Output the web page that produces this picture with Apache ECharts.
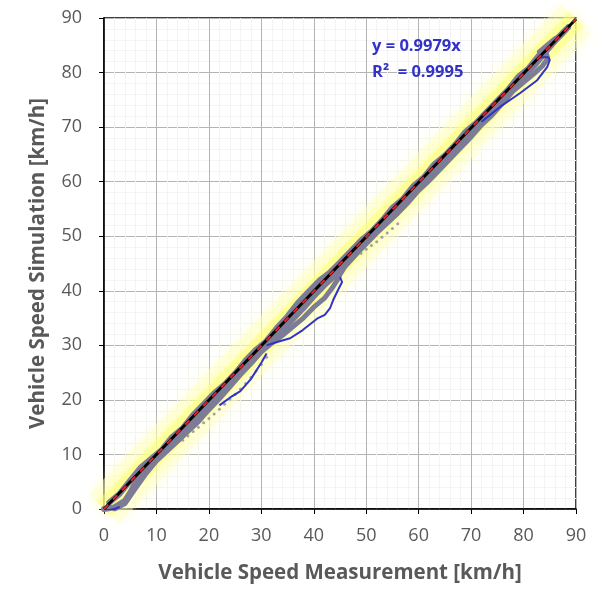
<!DOCTYPE html>
<html><head><meta charset="utf-8">
<script src="https://cdn.jsdelivr.net/npm/echarts@6/dist/echarts.min.js"></script>
<style>html,body{margin:0;padding:0;background:#fff}#c{width:606px;height:606px}</style>
</head><body><div id="c"></div>
<script>
// ---- data (x = measurement, y = simulation, km/h) ----
const axisTicks = [0,10,20,30,40,50,60,70,80,90];
const fitSlope = 0.9979;
const fitR2 = 0.9995;
const fitX = [0, 90];
const grayTrace1 = [[0,0],[2,0.3],[4,1.5],[5,3],[6,4.8],[7,6.5],[8,7.8],[10,9.5],[12,11.2],[14,13.2],[16,15.2],[18,16.8],[20,18.8],[22,20.8],[24,22.8],[26,25.2],[28,27.2],[30,29.3],[32,31],[34,32.8],[36,34.8],[38,36.8],[40,39],[42,41],[44,42.8],[46,45],[48,47.2],[50,49.2],[52,51.2],[54,53.2],[56,54.8],[58,56.8],[60,59.2],[62,60.8],[64,62.8],[66,64.8],[68,66.8],[70,68.8],[72,70.8],[74,73.2],[76,75.2],[78,77.2],[80,79.2],[82,81.2],[84,83.6],[86,85.8],[88,87.8]];
const grayTrace2 = [[1,1.2],[3,2.8],[5,5.2],[7,7.6],[9,9.2],[11,10.8],[13,13.2],[15,14.8],[17,17.2],[19,19.2],[21,21.2],[23,22.8],[25,24.8],[27,27.2],[29,29.2],[31,30.8],[33,33.2],[35,35.3],[37,37.8],[39,39.8],[41,41.8],[43,43.3],[45,45.2],[47,47.2],[49,49.2],[51,50.8],[53,52.8],[55,55.2],[57,56.8],[59,59.2],[61,60.8],[63,63.2],[65,64.8],[67,66.8],[69,69.2],[71,70.8],[73,72.8],[75,74.8],[77,76.8],[79,79.2],[81,80.8],[83,83.2],[85,85.2],[87,86.8],[88.5,88.3]];
const grayTrace3 = [[2,0],[4,1],[6,3.8],[8,6.5],[10,8.8],[12,10.6],[14,12.4],[16,14.2],[18,16],[20,18.2],[22,20.2],[24,22.4],[26,24.6],[28,26.6],[30,28.8],[32,30.4],[34,31.8],[36,33.4],[38,35],[40,37],[42,38.6],[43.5,40.5],[44.5,42],[45,43],[46,44.5],[48,46.6],[50,48.6],[52,50.6],[54,52.4],[56,54.2],[58,56.2],[60,58.4],[62,60.2],[64,62.2],[66,64.2],[68,66.2],[70,68.2],[72,70.4],[74,72.2],[76,74.4],[78,76.6],[80,78.2],[82,79.8],[83.6,81.2],[84.6,82.6],[84.2,84],[83,83.8],[84,84.6],[86,86.2]];
const grayDots1 = [[15,12.6],[16,13.4],[17,14.2],[18,15],[19,15.8],[20,16.6],[21,17.4],[22,18.3],[23,19.2],[24,20.1],[25,21],[26,22],[27,23],[28,24.1],[29,25.3],[30,26.5],[31,27.8]];
const grayDots2 = [[49,46.9],[50,47.6],[51,48.3],[52,49],[53,49.8],[54,50.6],[55,51.4],[56,52.3]];
const blueTrace1 = [[0,-0.2],[1,-0.2],[2,0],[3,0.4]];
const blueTrace2 = [[22,19],[24,20.4],[26,21.6],[28,23.8],[30,26.8],[31,28.5]];
const blueTrace3 = [[31,30],[33,30.6],[35.5,31.3],[37.9,32.8],[40.8,35],[42.1,35.6],[43.1,36.8],[43.7,38.3],[44.6,40.1],[45.4,41.6],[45,42.5]];
const blueTrace4 = [[72,71],[75.5,73.7],[79.3,76.2],[82.6,78.6],[84.5,81],[85,82.3],[84.7,82.8],[83.1,82.8],[81.8,81.7]];

const fitData = fitX.map(x => [x, fitSlope * x]);
const grayColor = '#7c7c96';
const blueColor = '#3232c8';

function grayLine(d, w) {
  return { type: 'line', data: d, symbol: 'none', smooth: false, z: 4,
    lineStyle: { color: grayColor, width: w, join: 'round', cap: 'round' } };
}
function blueLine(d) {
  return { type: 'line', data: d, symbol: 'none', z: 5,
    lineStyle: { color: blueColor, width: 2 } };
}

const chart = echarts.init(document.getElementById('c'), null, { renderer: 'canvas' });
const labelFont = { color: '#595959', fontSize: 18, fontFamily: 'Open Sans' };
const nameFont = { color: '#595959', fontSize: 20.5, fontWeight: 'bold', fontFamily: 'Open Sans' };
chart.setOption({
  animation: false,
  backgroundColor: '#fff',
  grid: { left: 104, right: 30, top: 18, bottom: 97, show: true, borderColor: '#000', borderWidth: 1.5, backgroundColor: '#fff' },
  xAxis: {
    type: 'value', min: 0, max: 90, interval: 10,
    name: 'Vehicle Speed Measurement [km/h]', nameLocation: 'middle', nameGap: 54,
    nameTextStyle: nameFont,
    axisLine: { lineStyle: { color: '#000', width: 1.5 } },
    axisTick: { show: true, length: 5, lineStyle: { color: '#000' } },
    axisLabel: Object.assign({ margin: 18 }, labelFont),
    splitLine: { lineStyle: { color: '#b4b4b4', width: 1 } },
    minorTick: { show: false, splitNumber: 5 },
    minorSplitLine: { show: true, lineStyle: { color: '#f4f4f4', width: 1 } }
  },
  yAxis: {
    type: 'value', min: 0, max: 90, interval: 10,
    name: 'Vehicle Speed Simulation [km/h]', nameLocation: 'middle', nameGap: 55,
    nameTextStyle: nameFont,
    axisLine: { lineStyle: { color: '#000', width: 1.5 } },
    axisTick: { show: true, length: 5, lineStyle: { color: '#000' } },
    axisLabel: Object.assign({ margin: 22 }, labelFont),
    splitLine: { lineStyle: { color: '#b4b4b4', width: 1 } },
    minorTick: { show: false, splitNumber: 5 },
    minorSplitLine: { show: true, lineStyle: { color: '#f4f4f4', width: 1 } }
  },
  graphic: [
    { type: 'text', left: 372, top: 38, z: 100, style: { text: 'y = 0.9979x', fill: blueColor, font: 'bold 16.5px "Open Sans"' } },
    { type: 'text', left: 372, top: 64, z: 100, style: { text: 'R\u00B2  = ' + fitR2.toFixed(4), fill: blueColor, font: 'bold 16.5px "Open Sans"' } }
  ],
  series: [
    { type: 'line', data: fitData, symbol: 'none', z: 1, silent: true,
      lineStyle: { color: 'rgba(255,255,200,0.45)', width: 42, shadowBlur: 14, shadowColor: 'rgba(255,255,170,0.7)' } },
    { type: 'line', data: fitData, symbol: 'none', z: 2, silent: true,
      lineStyle: { color: 'rgba(255,255,110,0.45)', width: 20, shadowBlur: 10, shadowColor: 'rgba(255,255,80,0.6)' } },
    grayLine(grayTrace1, 6),
    grayLine(grayTrace2, 6),
    grayLine(grayTrace3, 5),
    { type: 'scatter', data: grayDots1, symbolSize: 3, z: 4, itemStyle: { color: '#8a8aa0' } },
    { type: 'scatter', data: grayDots2, symbolSize: 3, z: 4, itemStyle: { color: '#8a8aa0' } },
    blueLine(blueTrace1),
    blueLine(blueTrace2),
    blueLine(blueTrace3),
    blueLine(blueTrace4),
    { type: 'line', data: fitData, symbol: 'none', z: 6, lineStyle: { color: '#000', width: 3 } },
    { type: 'line', data: fitData, symbol: 'none', z: 7, lineStyle: { color: '#e8202a', width: 2, type: [6, 7] } }
  ]
});
</script></body></html>
